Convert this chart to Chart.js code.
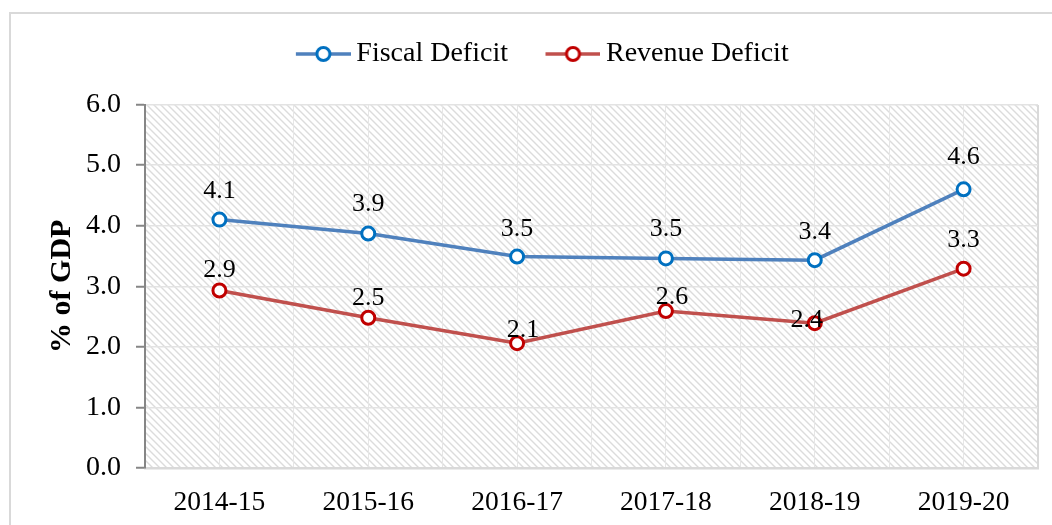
<!DOCTYPE html>
<html><head><meta charset="utf-8">
<script src="https://cdn.jsdelivr.net/npm/chart.js@4.4.1/dist/chart.umd.min.js"></script>
<style>html,body{margin:0;padding:0;background:#fff;}canvas{display:block;}</style>
</head><body>
<canvas id="c" width="1052" height="525"></canvas>
<script>
const categories = ['2014-15', '2015-16', '2016-17', '2017-18', '2018-19', '2019-20'];
const fiscalDeficit = [4.1, 3.87, 3.49, 3.46, 3.43, 4.6];
const revenueDeficit = [2.93, 2.48, 2.06, 2.59, 2.39, 3.29];
const yTicks = [0, 1, 2, 3, 4, 5, 6];
const seriesNames = ['Fiscal Deficit', 'Revenue Deficit'];
const yTitle = '% of GDP';

const FONT = "'Liberation Serif', 'Times New Roman', serif";

function legendImg(lineColor, markerColor) {
  const c = document.createElement('canvas');
  c.width = 75; c.height = 20;
  const g = c.getContext('2d');
  g.strokeStyle = lineColor; g.lineWidth = 3.5;
  g.beginPath(); g.moveTo(20, 10); g.lineTo(75, 10); g.stroke();
  g.beginPath(); g.arc(47.5, 10, 6.5, 0, Math.PI * 2);
  g.fillStyle = '#fff'; g.fill();
  g.strokeStyle = markerColor; g.lineWidth = 3; g.stroke();
  return c;
}
const legendImages = [legendImg('#4f81bd', '#0070c0'), legendImg('#c0504d', '#c00000')];

function makeHatch() {
  const s = 7;
  const c = document.createElement('canvas');
  c.width = s; c.height = s;
  const g = c.getContext('2d');
  g.fillStyle = '#ffffff'; g.fillRect(0, 0, s, s);
  g.strokeStyle = '#dcdcdc'; g.lineWidth = 1.4;
  g.beginPath();
  g.moveTo(-2, -2); g.lineTo(s + 2, s + 2);
  g.moveTo(s - 2, -2); g.lineTo(s + 2, 2);
  g.moveTo(-2, s - 2); g.lineTo(2, s + 2);
  g.stroke();
  return c;
}

const bgPlugin = {
  id: 'bg',
  beforeDraw(chart) {
    const ctx = chart.ctx, a = chart.chartArea;
    ctx.save();
    ctx.fillStyle = '#fff';
    ctx.fillRect(0, 0, chart.width, chart.height);
    ctx.strokeStyle = '#d9d9d9'; ctx.lineWidth = 2;
    ctx.strokeRect(10, 13, 1200, 700);
    ctx.fillStyle = ctx.createPattern(makeHatch(), 'repeat');
    ctx.fillRect(a.left, a.top, a.right - a.left, a.bottom - a.top);
    ctx.restore();
  }
};

const labelPlugin = {
  id: 'pointLabels',
  afterDatasetsDraw(chart, args, opts) {
    const ctx = chart.ctx;
    ctx.save();
    ctx.font = opts.font;
    ctx.fillStyle = '#000';
    ctx.textAlign = 'center';
    ctx.textBaseline = 'middle';
    chart.data.datasets.forEach((ds, i) => {
      const meta = chart.getDatasetMeta(i);
      meta.data.forEach((pt, j) => {
        const off = opts.offsets[i][j];
        ctx.fillText(ds.data[j].toFixed(1), pt.x + off[0], pt.y + off[1]);
      });
    });
    ctx.restore();
  }
};

new Chart(document.getElementById('c'), {
  type: 'line',
  data: {
    labels: categories,
    datasets: [
      {
        label: seriesNames[0], data: fiscalDeficit,
        borderColor: '#4f81bd', borderWidth: 3.5,
        pointRadius: 6.5, pointBorderWidth: 3, pointBorderColor: '#0070c0',
        pointBackgroundColor: '#fff', tension: 0
      },
      {
        label: seriesNames[1], data: revenueDeficit,
        borderColor: '#c0504d', borderWidth: 3.5,
        pointRadius: 6.5, pointBorderWidth: 3, pointBorderColor: '#c00000',
        pointBackgroundColor: '#fff', tension: 0
      }
    ]
  },
  options: {
    responsive: false,
    animation: false,
    layout: { padding: { left: 35, right: 14, top: 14, bottom: 0 } },
    plugins: {
      tooltip: { enabled: false },
      legend: {
        position: 'top',
        labels: {
          usePointStyle: true,
          pointStyleWidth: 58,
          padding: 26,
          color: '#000',
          font: { family: FONT, size: 28 },
          generateLabels(chart) {
            const items = Chart.defaults.plugins.legend.labels.generateLabels(chart);
            items.forEach((it, i) => { it.pointStyle = legendImages[i]; });
            return items;
          }
        }
      },
      pointLabels: {
        font: "26px " + FONT,
        offsets: [
          [[0, -28], [0, -29], [0, -27], [0, -29], [0, -28], [0, -32]],
          [[0, -20], [0, -20], [6, -13], [6, -14], [-8, -3], [0, -29]]
        ]
      }
    },
    scales: {
      x: {
        type: 'category',
        offset: true,
        grid: { display: false, drawTicks: false },
        border: { display: true, color: '#d9d9d9', width: 2.5 },
        ticks: { color: '#000', font: { family: FONT, size: 27.5 }, padding: 18, maxRotation: 0 },
        afterFit(s) { s.height = 57; }
      },
      x2: {
        type: 'linear',
        position: 'top',
        min: -0.5, max: 5.5,
        ticks: { display: false, stepSize: 0.5, maxTicksLimit: 30 },
        grid: {
          drawTicks: false,
          color: (c) => (c.tick && c.tick.value === 5.5) ? '#d9d9d9' : '#e6e6e6',
          lineWidth: (c) => (c.tick && c.tick.value === 5.5) ? 2 : 1
        },
        border: { display: false },
        afterFit(s) { s.height = 26.5; }
      },
      y: {
        min: 0, max: 6,
        afterBuildTicks(s) { s.ticks = yTicks.map(v => ({ value: v })); },
        ticks: {
          color: '#000', font: { family: FONT, size: 28 }, padding: 15,
          callback: (v) => Number(v).toFixed(1)
        },
        grid: { color: '#e3e3e3', lineWidth: 1.5, tickColor: '#868686', tickLength: 9, tickWidth: 2 },
        border: { display: true, color: '#868686', width: 2 },
        title: {
          display: true, text: yTitle, color: '#000',
          font: { family: FONT, size: 30, weight: 'bold' },
          padding: { top: 9, bottom: 0 }
        },
        afterFit(s) { s.width = 110; }
      }
    }
  },
  plugins: [bgPlugin, labelPlugin]
});
</script>
</body></html>
